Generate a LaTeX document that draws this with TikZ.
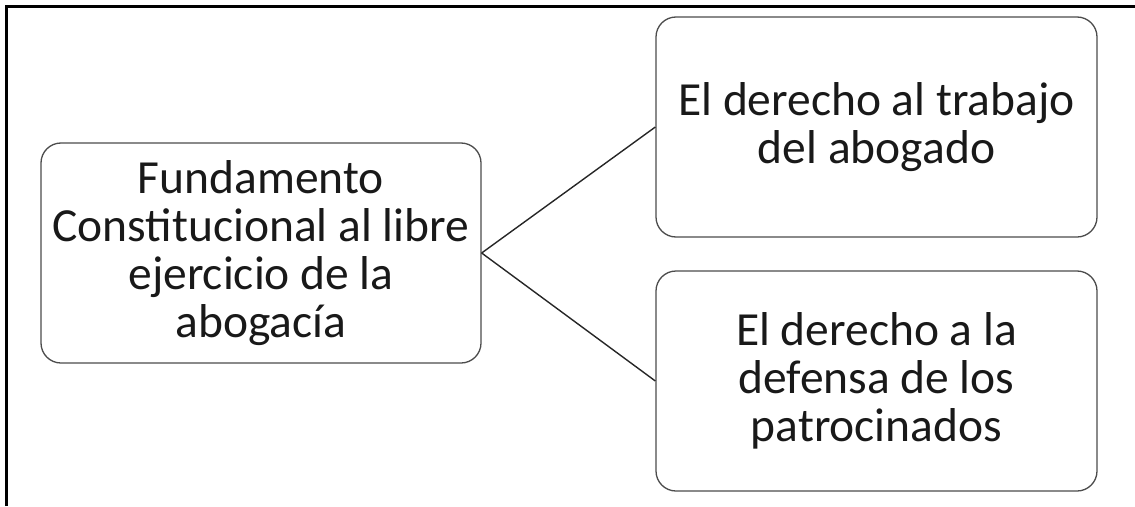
\documentclass[tikz,border=0pt]{standalone}
\usepackage{fontspec}
\setmainfont{Carlito}
\begin{document}
\begin{tikzpicture}[x=1pt,y=-1pt,
  box/.style={draw=black!70, line width=1.3pt, rounded corners=20pt, align=center,
    font=\fontsize{47.5}{48}\selectfont, text=black!90, inner sep=0pt},
  link/.style={draw=black!85, line width=1.4pt}]
\useasboundingbox (0,0) rectangle (1135,506);
\draw[line width=2.2pt] (6.5,506) -- (6.5,6.5) -- (1135,6.5);
\node[box, minimum width=440pt, minimum height=220pt] (root) at (261,253)
  {Fundamento\\Constitucional al libre\\ejercicio de la\\abogacía};
\node[box, minimum width=441pt, minimum height=220pt] (a) at (876.5,127)
  {El derecho al trabajo\\del abogado};
\node[box, minimum width=441pt, minimum height=220pt] (b) at (876.5,381)
  {El derecho a la\\defensa de los\\patrocinados};
\draw[link] (root.east) -- (a.west);
\draw[link] (root.east) -- (b.west);
\end{tikzpicture}
\end{document}
